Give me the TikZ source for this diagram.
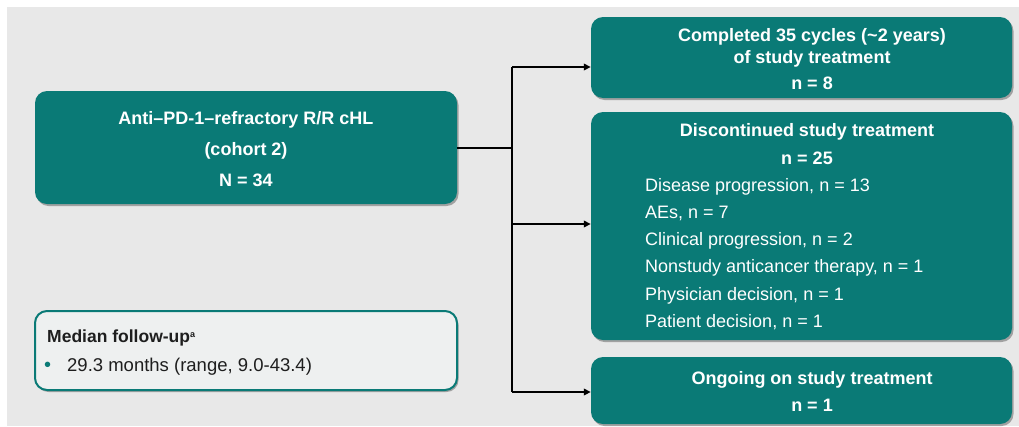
\documentclass[tikz,border=0pt]{standalone}
\usepackage{fontspec}
\setmainfont{Liberation Sans}
\usetikzlibrary{arrows.meta,shadows}
\definecolor{tealbox}{RGB}{10,122,118}
\definecolor{bggrey}{RGB}{232,232,232}
\definecolor{fubox}{RGB}{238,240,240}
\definecolor{darktext}{RGB}{30,30,30}
\begin{document}
\begin{tikzpicture}[x=1pt,y=-1pt,
  tbox/.style={draw=none, fill=tealbox, rounded corners=12pt, inner sep=0pt,
    drop shadow={shadow xshift=1.5pt, shadow yshift=-2pt, opacity=0.3, fill=black}},
  fbox/.style={draw=tealbox, line width=2pt, fill=fubox, rounded corners=12pt, inner sep=0pt,
    drop shadow={shadow xshift=1.5pt, shadow yshift=-2pt, opacity=0.3, fill=black}},
  wtxt/.style={text=white, align=center, inner sep=0pt},
  ltxt/.style={text=white, align=left, inner sep=0pt},
  dtxt/.style={text=darktext, align=left, inner sep=0pt, anchor=west},
  conn/.style={line width=2pt, draw=black},
  arr/.style={conn, -{Triangle[length=7pt,width=6.5pt]}}
]
% background
\path[fill=white] (0,0) rectangle (1019,426);
\path[fill=bggrey] (7,7) rectangle (1019,426);
\useasboundingbox (0,0) rectangle (1019,426);

% boxes
\node[tbox, minimum width=422pt, minimum height=113pt] (main) at (246,147.5) {};
\node[fbox, minimum width=422pt, minimum height=79pt] (follow) at (246,350.5) {};
\node[tbox, minimum width=421pt, minimum height=81pt] (done) at (801.5,57.5) {};
\node[tbox, minimum width=421pt, minimum height=228pt] (disc) at (801.5,226) {};
\node[tbox, minimum width=421pt, minimum height=67pt] (ongo) at (801.5,390.5) {};

% texts
\node[wtxt, font=\fontsize{18}{31}\selectfont\bfseries] (maintxt) at (246,149)
  {Anti–PD-1–refractory R/R cHL\\(cohort 2)\\N = 34};
\node[wtxt, font=\fontsize{18}{22}\selectfont\bfseries] (donetxt) at (812,59)
  {Completed 35 cycles (\textasciitilde 2 years)\\of study treatment\\[4pt]n = 8};
\node[wtxt, font=\fontsize{18}{28}\selectfont\bfseries] (disctxt) at (807,144)
  {Discontinued study treatment\\n = 25};
\node[ltxt, font=\fontsize{18}{27.2}\selectfont, anchor=west] (disclist) at (645,254)
  {Disease progression, n = 13\\AEs, n = 7\\Clinical progression, n = 2\\Nonstudy anticancer therapy, n = 1\\Physician decision, n = 1\\Patient decision, n = 1};
\node[wtxt, font=\fontsize{18}{27}\selectfont\bfseries] (ongotxt) at (812,391.5)
  {Ongoing on study treatment\\n = 1};
\node[dtxt, font=\fontsize{17.5}{20}\selectfont\bfseries] (fuhead) at (47,338)
  {Median follow-up\raisebox{0.55ex}{\fontsize{9}{9}\selectfont a}};
\node[dtxt, font=\fontsize{20}{20}\selectfont, text=tealbox] (fubullet) at (44,367) {\textbullet};
\node[dtxt, font=\fontsize{18.5}{20}\selectfont] (futxt) at (67,367)
  {29.3 months (range, 9.0-43.4)};

% connectors
\coordinate (jmain) at (512,148);
\coordinate (jtop) at (512,67);
\coordinate (jmid) at (512,224);
\coordinate (jbot) at (512,392);
\draw[conn] (main.east |- jmain) -- (jmain);
\draw[conn] (jtop) -- (jbot);
\draw[arr] (jtop) -- (jtop -| done.west);
\draw[arr] (jmid) -- (jmid -| disc.west);
\draw[arr] (jbot) -- (jbot -| ongo.west);
\end{tikzpicture}
\end{document}
